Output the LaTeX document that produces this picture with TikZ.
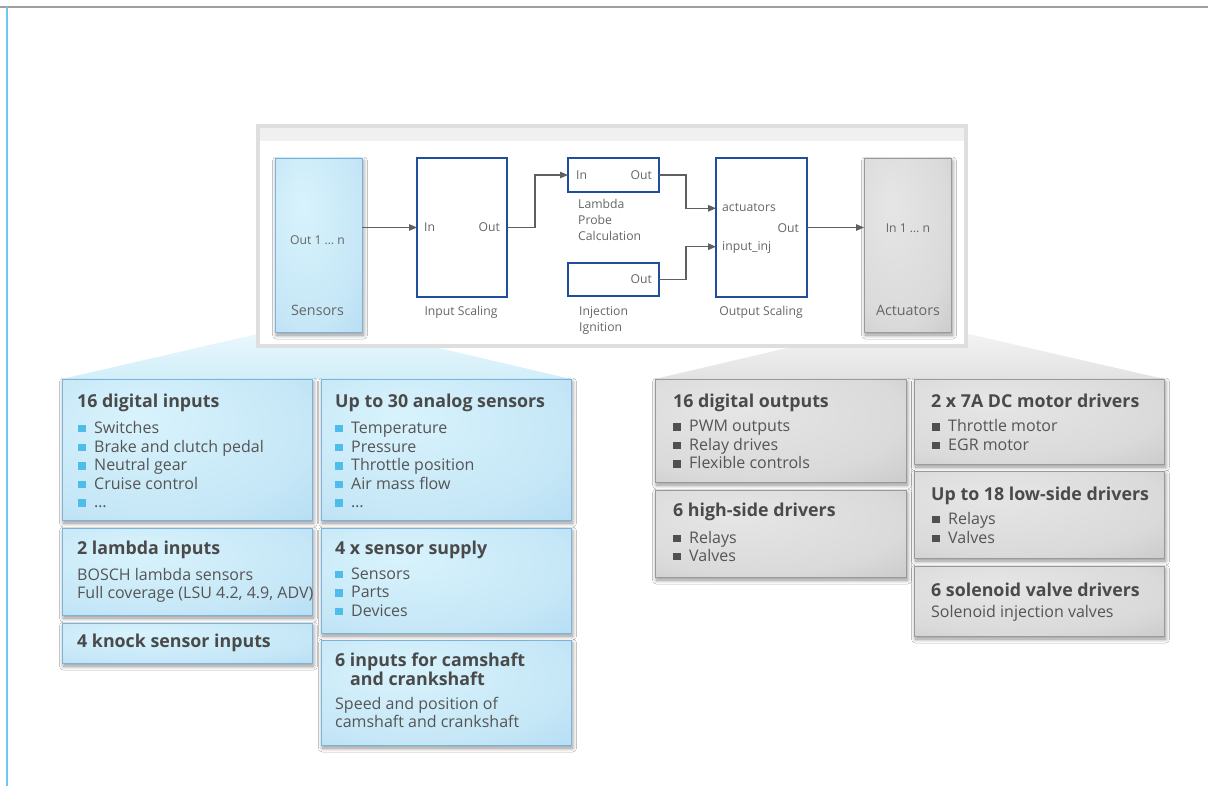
\documentclass[tikz,border=0pt]{standalone}
\usepackage{fontspec}
\setmainfont{Open Sans}
\usetikzlibrary{arrows.meta,shadows.blur,calc}
\definecolor{bbA}{HTML}{D8F3FC}
\definecolor{bbB}{HTML}{C6E7F7}
\definecolor{bbC}{HTML}{B2DCF3}
\definecolor{bbD}{HTML}{8EC7EC}
\definecolor{bbE}{HTML}{7DBBE6}
\definecolor{ggA}{HTML}{E6E6E6}
\definecolor{ggB}{HTML}{DADADA}
\definecolor{ggC}{HTML}{C8C8C8}
\definecolor{ggD}{HTML}{AAAAAA}
\definecolor{ggE}{HTML}{969696}
\definecolor{bluebord}{HTML}{7FB2D8}
\definecolor{greybord}{HTML}{9A9A9A}
\definecolor{headc}{HTML}{4A4A4A}
\definecolor{bodyc}{HTML}{555555}
\definecolor{labc}{HTML}{666666}
\definecolor{bulblue}{HTML}{4FBDE9}
\definecolor{bulgrey}{HTML}{505050}
\definecolor{boxblue}{HTML}{1F4E9C}
\definecolor{arrc}{HTML}{5F5F5F}
\definecolor{panelc}{HTML}{DEDEDE}
\definecolor{stripc}{HTML}{F0F0F0}
\definecolor{topline}{HTML}{A0A0A0}
\definecolor{leftline}{HTML}{6CC8F0}
\definecolor{fanbA}{HTML}{EAF8FD}
\definecolor{fanbB}{HTML}{D2EEF9}
\definecolor{fangA}{HTML}{F4F4F4}
\definecolor{fangB}{HTML}{E2E2E2}
\pgfdeclareradialshading{blueshade}{\pgfpoint{-10bp}{12bp}}{color(0bp)=(bbA); color(30bp)=(bbB); color(45bp)=(bbC); color(52bp)=(bbD); color(70bp)=(bbE)}
\pgfdeclareradialshading{greyshade}{\pgfpoint{-10bp}{12bp}}{color(0bp)=(ggA); color(30bp)=(ggB); color(45bp)=(ggC); color(52bp)=(ggD); color(70bp)=(ggE)}
\newcommand\bsq[1]{\textcolor{#1}{\rule[1pt]{7.5pt}{7.5pt}}\hspace{8.5pt}}
\begin{document}
\begin{tikzpicture}[x=1pt,y=-1pt,
  shadowed/.style={blur shadow={shadow xshift=1.5pt, shadow yshift=-3pt, shadow blur radius=4pt, shadow blur steps=8, shadow opacity=45}},
  bluebox/.style={shading=blueshade, draw=bluebord, line width=0.6pt, shadowed, anchor=north west, inner sep=0pt, outer sep=0pt},
  greybox/.style={shading=greyshade, draw=greybord, line width=0.6pt, shadowed, anchor=north west, inner sep=0pt, outer sep=0pt},
  fbox/.style={draw=boxblue, line width=1.5pt, fill=white, anchor=north west, inner sep=0pt, outer sep=0pt},
  arr/.style={draw=arrc, line width=1.2pt, -{Triangle[length=8pt,width=6.5pt]}},
  hd/.style={anchor=base west, inner sep=0pt, font=\fontsize{17.8}{20}\selectfont\bfseries, text=headc},
  it/.style={anchor=base west, inner sep=0pt, font=\fontsize{16}{18}\selectfont, text=bodyc},
  lab/.style={anchor=base, inner sep=0pt, font=\fontsize{12.2}{14}\selectfont, text=labc},
  labw/.style={lab, anchor=base west},
  labe/.style={lab, anchor=base east},
  big/.style={lab, font=\fontsize{14.3}{16}\selectfont}
]
\useasboundingbox (0,0) rectangle (1208,786);
\fill[white] (0,0) rectangle (1208,786);
% frame lines
\draw[topline, line width=1.6pt] (0,7) -- (1208,7);
\draw[leftline, line width=2.2pt] (7,7) -- (7,786);

% fans
\shade[top color=fanbA, bottom color=fanbB] (275,330) -- (362,330) -- (571,379) -- (62,379) -- cycle;
\shade[top color=fangA, bottom color=fangB] (864,330) -- (951,330) -- (1164,379) -- (655,379) -- cycle;

% panel
\node[fill=white, anchor=north west, minimum width=708pt, minimum height=220pt, inner sep=0pt, outer sep=0pt] (pan) at (258,126) {};
\fill[stripc] (pan.north west) rectangle ($(pan.north east)+(0,15)$);
\draw[panelc, line width=3.5pt] (pan.north west) rectangle (pan.south east);

% block diagram
\node[bluebox, minimum width=87pt, minimum height=174pt] (sens) at (275,158) {};
\node[greybox, minimum width=87pt, minimum height=174pt] (act) at (864,158) {};
\node[fbox, minimum width=90pt, minimum height=139pt] (insc) at (417,158) {};
\node[fbox, minimum width=91pt, minimum height=34pt] (lam) at (568,158) {};
\node[fbox, minimum width=91pt, minimum height=33pt] (inj) at (568,263) {};
\node[fbox, minimum width=91pt, minimum height=139pt] (outsc) at (716,158) {};

\draw[arr] (sens.east |- insc.west) -- (insc.west);
\draw[arr] (insc.east) -- ++(28,0) |- (lam.west);
\draw[arr] (lam.east) -- ++(27,0) |- ([yshift=19.2pt]outsc.west);
\draw[arr] (inj.east) -- ++(27,0) |- ([yshift=-19.2pt]outsc.west);
\draw[arr] (outsc.east) -- (outsc.east -| act.west);

\node[lab] (t1) at (317.5,245) {Out 1 … n};
\node[big] (t2) at (317.5,315.7) {Sensors};
\node[labw] (t3) at (424,231.7) {In};
\node[labe] (t4) at (500,231.7) {Out};
\node[lab] (t5) at (461,315.7) {Input Scaling};
\node[labw] (t6) at (576,180) {In};
\node[labe] (t7) at (652,180) {Out};
\node[labw] (t8) at (578,209) {Lambda};
\node[labw] (t9) at (578,225) {Probe};
\node[labw] (t10) at (578,240.7) {Calculation};
\node[labe] (t11) at (652,284) {Out};
\node[labw] (t12) at (579,315.7) {Injection};
\node[labw] (t13) at (579,331.7) {Ignition};
\node[labw] (t14) at (722,211.7) {actuators};
\node[labe] (t15) at (799,232.3) {Out};
\node[labw] (t16) at (722,251) {input\_inj};
\node[lab] (t17) at (761,315.7) {Output Scaling};
\node[lab] (t18) at (908,232.3) {In 1 … n};
\node[big] (t19) at (908,315.7) {Actuators};

% left boxes
\node[bluebox, minimum width=250pt, minimum height=141pt] (L1) at (62,379) {};
\node[bluebox, minimum width=250pt, minimum height=141pt] (L2) at (321,379) {};
\node[bluebox, minimum width=250pt, minimum height=87pt] (L3) at (62,528) {};
\node[bluebox, minimum width=250pt, minimum height=40pt] (L4) at (62,623) {};
\node[bluebox, minimum width=250pt, minimum height=105pt] (L5) at (321,528) {};
\node[bluebox, minimum width=250pt, minimum height=105pt] (L6) at (321,640) {};

\node[hd] (h1) at (77,407.7) {16 digital inputs};
\foreach \yy/\tt [count=\i] in {433.3/Switches, 452/Brake and clutch pedal, 470.7/Neutral gear, 489.3/Cruise control, 507.7/…}
  \node[it] (a\i) at (78,\yy) {\bsq{bulblue}\tt};
\node[hd] (h2) at (335,407.7) {Up to 30 analog sensors};
\foreach \yy/\tt [count=\i] in {433.3/Temperature, 452/Pressure, 470.7/Throttle position, 489.3/Air mass flow, 507.7/…}
  \node[it] (b\i) at (335,\yy) {\bsq{bulblue}\tt};
\node[hd] (h3) at (77,554) {2 lambda inputs};
\node[it] (c1) at (77,580) {BOSCH lambda sensors};
\node[it] (c2) at (77,598.7) {Full coverage (LSU 4.2, 4.9, ADV)};
\node[hd] (h4) at (77,647.7) {4 knock sensor inputs};
\node[hd] (h5) at (335,554) {4 x sensor supply};
\foreach \yy/\tt [count=\i] in {579.3/Sensors, 597.7/Parts, 616/Devices}
  \node[it] (d\i) at (335,\yy) {\bsq{bulblue}\tt};
\node[hd] (h6) at (335,666.7) {6 inputs for camshaft};
\node[hd] (h6b) at (350,685) {and crankshaft};
\node[it] (e1) at (335,709.3) {Speed and position of};
\node[it] (e2) at (335,727) {camshaft and crankshaft};

% right boxes
\node[greybox, minimum width=251pt, minimum height=103pt] (R1) at (655,379) {};
\node[greybox, minimum width=250pt, minimum height=85pt] (R2) at (914,379) {};
\node[greybox, minimum width=251pt, minimum height=87pt] (R3) at (655,490) {};
\node[greybox, minimum width=250pt, minimum height=87pt] (R4) at (914,471) {};
\node[greybox, minimum width=250pt, minimum height=70pt] (R5) at (914,566) {};

\node[hd] (k1) at (673,407.3) {16 digital outputs};
\foreach \yy/\tt [count=\i] in {431.7/PWM outputs, 450.3/Relay drives, 468.7/Flexible controls}
  \node[it] (f\i) at (673,\yy) {\bsq{bulgrey}\tt};
\node[hd] (k2) at (931,407.3) {2 x 7A DC motor drivers};
\foreach \yy/\tt [count=\i] in {431.7/Throttle motor, 450.3/EGR motor}
  \node[it] (g\i) at (932,\yy) {\bsq{bulgrey}\tt};
\node[hd] (k3) at (673,516.7) {6 high-side drivers};
\foreach \yy/\tt [count=\i] in {543/Relays, 561.3/Valves}
  \node[it] (m\i) at (673,\yy) {\bsq{bulgrey}\tt};
\node[hd] (k4) at (931,500) {Up to 18 low-side drivers};
\foreach \yy/\tt [count=\i] in {524.3/Relays, 543/Valves}
  \node[it] (n\i) at (932,\yy) {\bsq{bulgrey}\tt};
\node[hd] (k5) at (931,596) {6 solenoid valve drivers};
\node[it] (p1) at (931,617.3) {Solenoid injection valves};
\end{tikzpicture}
\end{document}
